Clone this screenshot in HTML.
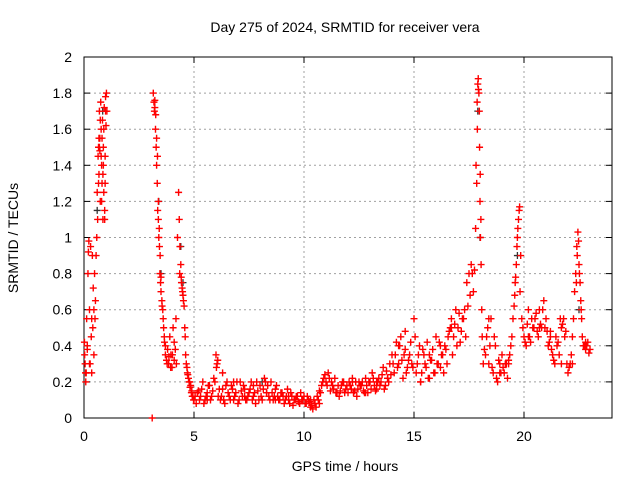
<!DOCTYPE html>
<html><head><meta charset="utf-8">
<style>
body{margin:0;background:#fff;}
svg{display:block;font-family:"Liberation Sans",sans-serif;}
</style></head>
<body>
<svg id="chart" width="640" height="480">
<rect width="640" height="480" fill="#fff"/>
<text x="345" y="32" font-size="14" text-anchor="middle">Day 275 of 2024, SRMTID for receiver vera</text>
<text x="345" y="471" font-size="14" text-anchor="middle">GPS time / hours</text>
<text transform="translate(18,238) rotate(-90)" font-size="14" text-anchor="middle">SRMTID / TECUs</text>
<g id="grid"></g><g id="axes"></g><g id="marks"></g>
</svg>
<script>
const xTicks=[0,5,10,15,20];
const yTicks=[0,0.2,0.4,0.6,0.8,1,1.2,1.4,1.6,1.8,2];
const yTickLabels=["0","0.2","0.4","0.6","0.8","1","1.2","1.4","1.6","1.8","2"];
const times=[
0.02,0.05,0.08,0.1,0.12,0.15,0.18,0.2,0.22,0.25,0.28,0.3,0.33,0.35,0.38,0.4,0.42,0.45,0.48,0.5,0.52,0.55,0.58,0.6,0.62,0.64,0.66,0.68,0.7,0.72,0.74,0.76,0.78,0.8,0.82,0.84,0.86,0.88,0.9,0.92,0.94,0.96,0.98,1.0,1.02,1.04,
3.1,3.15,3.18,3.2,3.22,3.25,3.28,3.3,3.33,3.35,3.38,3.4,3.43,3.45,3.48,3.5,3.55,3.6,3.65,3.7,3.75,3.8,3.85,3.9,3.95,4.0,4.05,4.1,4.15,4.2,4.25,4.3,4.33,4.36,4.4,4.43,4.46,4.5,4.55,4.6,4.65,4.7,4.75,4.8,4.85,4.9,4.95,
5.0,5.1,5.2,5.3,5.4,5.5,5.6,5.7,5.8,5.9,6.0,6.05,6.1,6.2,6.3,6.4,6.5,6.6,6.7,6.8,6.9,7.0,7.1,7.2,7.3,7.4,7.5,7.6,7.7,7.8,7.9,8.0,8.1,8.2,8.3,8.4,8.5,8.6,8.7,8.8,8.9,9.0,9.1,9.2,9.3,9.4,9.5,9.6,9.7,9.8,9.9,10.0,10.1,10.2,10.3,10.4,10.5,10.6,10.7,10.8,10.9,
11.0,11.1,11.2,11.3,11.4,11.5,11.6,11.7,11.8,11.9,12.0,12.1,12.2,12.3,12.4,12.5,12.6,12.7,12.8,12.9,13.0,13.1,13.2,13.3,13.4,13.5,13.6,13.7,13.8,13.9,14.0,14.1,14.2,14.3,14.4,14.5,14.6,14.7,14.8,14.9,15.0,15.05,15.1,15.2,15.3,15.4,15.5,15.6,15.7,15.8,15.9,16.0,16.1,16.2,16.3,16.4,16.5,16.6,16.7,16.8,16.9,17.0,17.1,17.2,17.3,17.4,17.5,17.6,17.7,
17.8,17.85,17.88,17.9,17.92,17.95,17.98,18.0,18.02,18.05,18.08,18.1,18.15,18.2,18.3,18.4,18.5,18.6,18.7,18.8,18.9,19.0,19.1,19.2,19.3,19.4,19.5,19.55,19.6,19.65,19.7,19.75,19.8,19.85,19.9,20.0,20.1,20.2,20.3,20.4,20.5,20.6,20.7,20.8,20.9,21.0,21.1,21.2,21.3,21.4,21.5,21.6,21.7,21.8,21.9,22.0,22.1,22.2,22.3,22.35,22.4,22.45,22.5,22.55,22.6,22.65,22.7,22.8,22.9,23.0,
0.03,0.07,0.15,0.25,0.35,0.45,5.2,5.6,6.3,6.8,7.3,7.7,8.3,8.7,9.3,9.8,10.3,10.7,12.2,12.8,13.3,13.8,14.3,14.6,15.3,15.7,16.2,16.7,18.4,18.9,19.3,20.2,20.7,21.2,21.7,22.2,22.8
];
const values=[
0.42,0.3,0.2,0.25,0.55,0.38,0.8,0.92,0.98,0.6,0.3,0.95,0.45,0.25,0.9,0.5,0.72,0.35,0.8,0.55,0.65,0.9,1.0,1.25,1.1,1.45,1.5,1.35,1.7,1.55,1.2,1.75,1.6,1.4,1.3,1.65,1.1,1.5,1.25,1.72,1.15,1.45,1.78,1.62,1.8,1.7,
0.0,1.8,1.75,1.7,1.72,1.6,1.5,1.4,1.3,1.15,1.1,1.0,0.95,0.8,0.75,0.7,0.62,0.55,0.45,0.4,0.32,0.38,0.3,0.45,0.35,0.28,0.5,0.32,0.38,0.3,1.0,1.25,1.1,0.95,0.85,0.75,0.72,0.68,0.62,0.45,0.3,0.25,0.22,0.2,0.18,0.15,0.12,
0.1,0.08,0.15,0.12,0.2,0.1,0.14,0.18,0.12,0.22,0.35,0.3,0.12,0.1,0.16,0.08,0.2,0.12,0.18,0.1,0.14,0.08,0.2,0.12,0.16,0.1,0.14,0.2,0.12,0.08,0.15,0.18,0.1,0.22,0.14,0.12,0.2,0.1,0.16,0.12,0.1,0.14,0.08,0.12,0.1,0.14,0.07,0.1,0.12,0.08,0.1,0.12,0.08,0.1,0.06,0.05,0.08,0.12,0.15,0.18,0.22,
0.2,0.25,0.15,0.18,0.22,0.14,0.12,0.18,0.2,0.16,0.14,0.18,0.22,0.15,0.12,0.2,0.18,0.15,0.22,0.14,0.2,0.25,0.18,0.16,0.22,0.2,0.28,0.18,0.22,0.3,0.35,0.25,0.42,0.3,0.45,0.22,0.38,0.28,0.35,0.3,0.55,0.45,0.25,0.35,0.2,0.38,0.3,0.42,0.22,0.32,0.25,0.45,0.3,0.28,0.35,0.4,0.3,0.48,0.55,0.45,0.6,0.5,0.42,0.55,0.6,0.75,0.8,0.85,0.7,
1.05,1.3,1.6,1.85,1.88,1.8,1.5,1.2,1.0,0.85,0.6,0.45,0.3,0.38,0.45,0.3,0.55,0.25,0.4,0.2,0.3,0.35,0.25,0.3,0.32,0.4,0.55,0.62,0.75,0.85,1.0,1.1,1.17,0.9,0.55,0.45,0.4,0.6,0.42,0.5,0.55,0.48,0.6,0.5,0.65,0.55,0.4,0.45,0.35,0.3,0.4,0.35,0.5,0.55,0.48,0.25,0.3,0.45,0.7,0.8,0.95,1.03,0.85,0.75,0.6,0.45,0.4,0.38,0.42,0.38,
0.35,0.25,0.4,0.3,0.55,0.6,0.15,0.1,0.25,0.2,0.12,0.18,0.14,0.1,0.12,0.08,0.1,0.08,0.2,0.14,0.2,0.22,0.4,0.48,0.2,0.35,0.4,0.5,0.55,0.25,0.3,0.45,0.5,0.48,0.3,0.3,0.42
];
const times2=[
0.66,0.7,0.74,0.78,0.82,0.86,0.9,0.94,0.98,0.68,0.72,0.8,0.88,0.96,
3.22,3.26,3.3,3.34,3.38,3.42,3.46,3.5,3.54,3.58,3.62,3.66,3.7,3.78,3.86,3.94,4.02,4.1,4.18,4.35,4.42,4.48,4.52,4.58,4.62,4.68,4.72,4.78,4.82,4.88,4.92,4.98,
5.05,5.15,5.25,5.35,5.45,5.55,5.65,5.75,5.85,5.95,6.02,6.08,6.15,6.25,6.35,6.45,6.55,6.65,6.75,6.85,6.95,7.05,7.15,7.25,7.35,7.45,7.55,7.65,7.75,7.85,7.95,8.05,8.15,8.25,8.35,8.45,8.55,8.65,8.75,8.85,8.95,9.05,9.15,9.25,9.35,9.45,9.55,9.65,9.75,9.85,9.95,10.05,10.15,10.25,10.35,10.45,10.55,10.65,10.75,10.85,10.95,
11.05,11.15,11.25,11.35,11.45,11.55,11.65,11.75,11.85,11.95,12.05,12.15,12.25,12.35,12.45,12.55,12.65,12.75,12.85,12.95,13.05,13.15,13.25,13.35,13.45,13.55,13.65,13.75,13.85,13.95,14.05,14.15,14.25,14.35,14.45,14.55,14.65,14.75,14.85,14.95,15.15,15.25,15.35,15.45,15.55,15.65,15.75,15.85,15.95,16.05,16.15,16.25,16.35,16.45,16.55,16.65,16.75,16.85,16.95,17.05,17.15,17.25,17.35,17.45,17.55,17.65,17.75,
17.82,17.87,17.93,17.97,18.01,18.04,18.25,18.35,18.45,18.55,18.65,18.75,18.85,18.95,19.05,19.15,19.25,19.35,19.45,19.58,19.62,19.68,19.72,19.78,19.82,19.95,20.05,20.15,20.25,20.35,20.45,20.55,20.65,20.75,20.85,20.95,21.05,21.15,21.25,21.35,21.45,21.55,21.65,21.75,21.85,21.95,22.05,22.15,22.25,22.38,22.42,22.48,22.52,22.58,22.62,22.75,22.85,22.95
];
const values2=[
1.3,1.5,1.65,1.45,1.55,1.35,1.6,1.1,1.7,1.55,1.48,1.2,1.4,1.3,
1.76,1.68,1.55,1.45,1.2,1.05,0.9,0.78,0.65,0.6,0.5,0.42,0.35,0.3,0.34,0.28,0.35,0.42,0.55,0.8,0.78,0.7,0.65,0.5,0.35,0.28,0.24,0.2,0.17,0.14,0.12,0.1,
0.12,0.14,0.1,0.16,0.08,0.12,0.18,0.1,0.15,0.2,0.28,0.32,0.16,0.12,0.1,0.18,0.14,0.1,0.16,0.12,0.2,0.1,0.15,0.18,0.1,0.12,0.16,0.1,0.14,0.2,0.1,0.12,0.16,0.2,0.18,0.1,0.14,0.12,0.18,0.1,0.14,0.12,0.1,0.16,0.08,0.12,0.1,0.12,0.09,0.14,0.1,0.08,0.12,0.09,0.07,0.1,0.06,0.1,0.14,0.2,0.24,
0.18,0.22,0.2,0.16,0.14,0.18,0.15,0.2,0.14,0.18,0.2,0.16,0.14,0.2,0.16,0.18,0.2,0.14,0.18,0.2,0.16,0.22,0.15,0.2,0.18,0.24,0.16,0.26,0.2,0.24,0.3,0.35,0.28,0.4,0.32,0.35,0.25,0.32,0.42,0.28,0.3,0.4,0.25,0.35,0.28,0.22,0.32,0.38,0.25,0.3,0.42,0.35,0.25,0.38,0.45,0.5,0.35,0.52,0.4,0.58,0.48,0.55,0.45,0.62,0.68,0.8,0.82,
1.4,1.75,1.82,1.7,1.35,1.1,0.35,0.5,0.4,0.28,0.45,0.22,0.32,0.25,0.28,0.3,0.22,0.35,0.45,0.68,0.78,0.95,1.05,1.15,0.7,0.5,0.42,0.52,0.45,0.55,0.5,0.58,0.45,0.52,0.6,0.5,0.48,0.42,0.38,0.32,0.45,0.42,0.55,0.52,0.45,0.3,0.28,0.35,0.55,0.75,0.9,0.98,0.8,0.65,0.55,0.4,0.4,0.36
];
const blackTimes=[0.6,0.85,3.4,3.5,4.4,4.5,8.1,17.9,18.0,19.7,22.5];
const blackValues=[1.15,1.7,1.2,0.8,0.95,0.75,0.2,1.7,1.0,0.9,0.6];
const X0=84,X1=612,Y0=418,Y1=57,XMAX=24,YMAX=2;
const xs=t=>X0+(X1-X0)*t/XMAX;
const ys=v=>Y0-(Y0-Y1)*v/YMAX;
const NS="http://www.w3.org/2000/svg";
function mk(tag,attrs,parent){const e=document.createElementNS(NS,tag);for(const k in attrs)e.setAttribute(k,attrs[k]);parent.appendChild(e);return e;}
const grid=document.getElementById('grid'),axes=document.getElementById('axes'),marks=document.getElementById('marks');
xTicks.forEach(t=>{
 const x=xs(t);
 if(t>0){const g=mk('line',{x1:x,x2:x,y1:Y0,y2:Y1,stroke:'#a0a0a0','stroke-dasharray':'2,3'},grid);
 
 }
 mk('line',{x1:x,x2:x,y1:Y0,y2:Y0-6,stroke:'#000'},axes);
 mk('line',{x1:x,x2:x,y1:Y1,y2:Y1+6,stroke:'#000'},axes);
 const l=mk('text',{x:x,y:Y0+23,'font-size':14,'text-anchor':'middle'},axes);l.textContent=String(t);
 
 
});
yTicks.forEach((v,i)=>{
 const y=ys(v);
 if(v>0&&v<YMAX){const g=mk('line',{x1:X0,x2:X1,y1:y,y2:y,stroke:'#a0a0a0','stroke-dasharray':'2,3'},grid);
 
 }
 mk('line',{x1:X0,x2:X0+6,y1:y,y2:y,stroke:'#000'},axes);
 mk('line',{x1:X1,x2:X1-6,y1:y,y2:y,stroke:'#000'},axes);
 const l=mk('text',{x:X0-12,y:y+5,'font-size':14,'text-anchor':'end'},axes);l.textContent=yTickLabels[i];
 
 
});
const fr=mk('rect',{x:X0,y:Y1,width:X1-X0,height:Y0-Y1,fill:'none',stroke:'#000'},axes);


blackTimes.forEach((t,i)=>{
 const x=xs(t),y=ys(blackValues[i]);
 const p=mk('path',{d:`M${x-3.5},${y}h7M${x},${y-3.5}v7`,stroke:'#333','stroke-width':1.3},marks);
 
 
});
function plot(ts,vs){
 ts.forEach((t,i)=>{
  const x=xs(t),y=ys(vs[i]);
  const p=mk('path',{d:`M${x-3.5},${y}h7M${x},${y-3.5}v7`,stroke:'#f00','stroke-width':1.4},marks);
  
  
 });
}
plot(times,values);
plot(times2,values2);
</script>
</body></html>
